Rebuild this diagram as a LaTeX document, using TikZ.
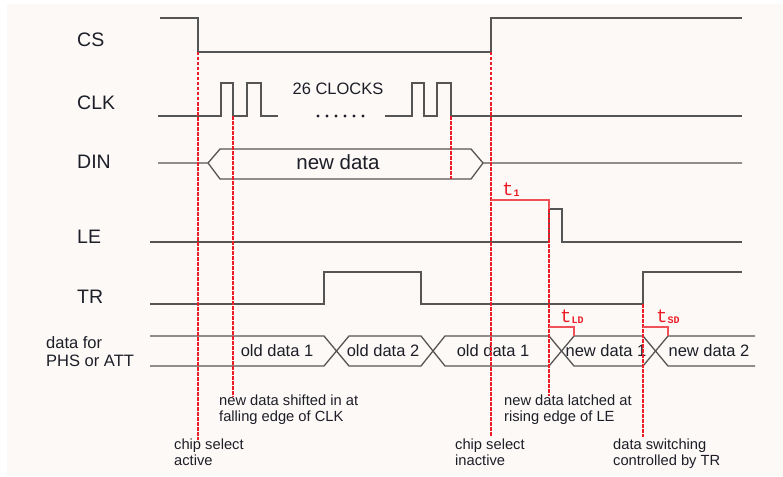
\documentclass[tikz,border=0pt]{standalone}
\usepackage{fontspec}
\setmainfont{Liberation Sans}
\newfontfamily\timefont{Liberation Mono}
\definecolor{bgcolor}{RGB}{253,249,246}
\definecolor{wavecolor}{RGB}{85,85,85}
\definecolor{edgecolor}{RGB}{235,30,40}
\definecolor{spancolor}{RGB}{240,80,88}
\definecolor{textcolor}{RGB}{28,30,40}
% small bold index after a time symbol
\newcommand{\tidx}[1]{\raisebox{-1pt}{\fontsize{10}{10}\selectfont\bfseries #1}}

\begin{document}
\begin{tikzpicture}[
    x=1pt, y=-1pt,
    wave/.style={draw=wavecolor, line width=1.3pt},
    edgemark/.style={draw=edgecolor, line width=1.2pt, dash pattern=on 3.5pt off 1.5pt},
    span/.style={draw=spancolor, line width=1.3pt},
    siglabel/.style={anchor=west, inner sep=0pt, text=textcolor, font=\fontsize{19.5}{22}\selectfont},
    bustext/.style={inner sep=0pt, text=textcolor, font=\fontsize{16.5}{19}\selectfont},
    notetext/.style={anchor=base west, align=left, inner sep=0pt, text=textcolor, font=\fontsize{14.7}{16}\selectfont},
    tlabel/.style={anchor=base west, inner sep=0pt, text=edgecolor, font=\timefont\fontsize{19}{19}\selectfont}
]
    % Page background
    \fill[white] (0,0) rectangle (783,476);
    \fill[bgcolor] (7,4) rectangle (783,476);
    \useasboundingbox (0,0) rectangle (783,476);

    % Signal names
    \node[siglabel] (cs) at (77,40) {CS};
    \node[siglabel] (clk) at (77,103) {CLK};
    \node[siglabel] (din) at (77,162) {DIN};
    \node[siglabel] (le) at (77,237) {LE};
    \node[siglabel] (tr) at (77,297) {TR};
    % (base of a two-line node sits on its last line)
    \node[anchor=base west, align=left, inner sep=0pt, text=textcolor, font=\fontsize{16.5}{18}\selectfont] (bus) at (46,366) {data for\\PHS or ATT};

    % CS
    \draw[wave] (160,18) -- (198,18) -- (198,52) -- (491,52) -- (491,18) -- (742,18);

    % CLK
    \draw[wave] (158,116) -- (221,116) -- (221,83) -- (233,83) -- (233,116) -- (247,116)
        -- (247,83) -- (261,83) -- (261,116) -- (278,116);
    \draw[wave] (385,116) -- (412,116) -- (412,83) -- (424,83) -- (424,116) -- (437,116)
        -- (437,83) -- (451,83) -- (451,116) -- (742,116);
    \foreach \x in {318,327,...,363}
        \fill[textcolor] (\x,116) circle (1.7pt);
    \node[bustext] (clocks) at (338,89) {26 CLOCKS};

    % DIN
    \draw[wave] (158,163) -- (208,163) -- (220,149) -- (471,149) -- (483,163) -- (742,163);
    \draw[wave] (208,163) -- (220,179) -- (471,179) -- (483,163);
    \node[bustext, font=\fontsize{20.5}{22}\selectfont] (newdata) at (338,162) {new data};

    % LE
    \draw[wave] (150,242) -- (549,242) -- (549,209) -- (562,209) -- (562,242) -- (742,242);

    % TR
    \draw[wave] (150,304) -- (324,304) -- (324,272) -- (421,272) -- (421,304) -- (643,304)
        -- (643,272) -- (742,272);

    % data for PHS or ATT
    \draw[wave] (150,336) -- (324,336) -- (349,366) -- (421,366) -- (445,336) -- (549,336)
        -- (574,366) -- (643,366) -- (668,336) -- (755,336);
    \draw[wave] (150,366) -- (324,366) -- (349,336) -- (421,336) -- (445,366) -- (549,366)
        -- (574,336) -- (643,336) -- (668,366) -- (755,366);
    \node[bustext] (old1) at (277,351) {old data 1};
    \node[bustext] (old2) at (383,351) {old data 2};
    \node[bustext] (old1b) at (493,351) {old data 1};
    \node[bustext] (new1) at (606,351) {new data 1};
    \node[bustext] (new2) at (709,351) {new data 2};

    % Edges of interest
    \coordinate (csfall) at (198,52);
    \coordinate (csrise) at (491,52);
    \coordinate (clkfirst) at (233,116);
    \coordinate (clklast) at (451,116);
    \coordinate (lerise) at (549,209);
    \coordinate (trrise) at (643,304);

    % Notes
    \node[notetext] (shifted) at (219,421) {new data shifted in at\\falling edge of CLK};
    \node[notetext] (csact) at (174,465) {chip select\\active};
    \node[notetext] (latched) at (504,421) {new data latched at\\rising edge of LE};
    \node[notetext] (csinact) at (455,465) {chip select\\inactive};
    \node[notetext] (switch) at (613,465) {data switching\\controlled by TR};

    % Markers
    \draw[edgemark] (csfall) -- (csfall |- 0,440);
    \draw[edgemark] (clkfirst) -- (clkfirst |- 0,397);
    \draw[edgemark] (clklast) -- (clklast |- 0,179);
    \draw[edgemark] (csrise) -- (csrise |- 0,437);
    \draw[edgemark] (lerise) -- (lerise |- 0,396);
    \draw[edgemark] (trrise) -- (trrise |- 0,437);

    % Timing spans
    \draw[span] (491,200) -- (549,200) -- (lerise);
    \draw[span] (549,327) -- (574,327) -- (574,336);
    \draw[span] (643,327) -- (668,327) -- (668,336);
    \node[tlabel] (t1) at (502,195) {t\tidx{1}};
    \node[tlabel] (tld) at (560,322) {t\tidx{LD}};
    \node[tlabel] (tsd) at (656,322) {t\tidx{SD}};
\end{tikzpicture}
\end{document}
